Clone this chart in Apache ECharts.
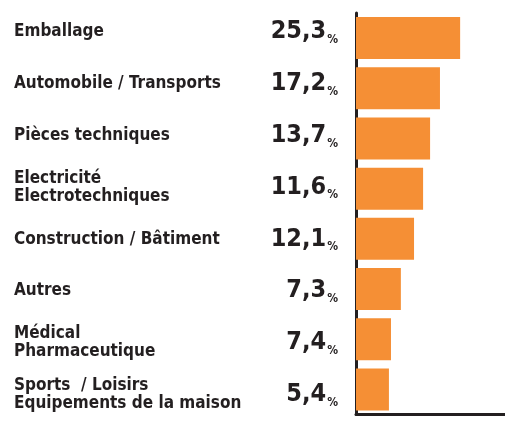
<!DOCTYPE html>
<html>
<head>
<meta charset="utf-8">
<script src="https://cdn.jsdelivr.net/npm/echarts@6/dist/echarts.min.js"></script>
<style>
  html, body { margin: 0; padding: 0; background: #fff; }
  #chart { width: 505px; height: 427px; }
</style>
</head>
<body>
<div id="chart"></div>
<script>
// sectors, top to bottom
const sectors = [
  'Emballage',
  'Automobile / Transports',
  'Pièces techniques',
  'Electricité\nElectrotechniques',
  'Construction / Bâtiment',
  'Autres',
  'Médical\nPharmaceutique',
  'Sports  / Loisirs\nEquipements de la maison'
]
// printed shares (%)
const shares = ['25,3', '17,2', '13,7', '11,6', '12,1', '7,3', '7,4', '5,4']
// bar lengths as drawn in the picture (same unit, first bar = 25.3)
const barLengths = [25.3, 20.4, 18.0, 16.3, 14.1, 10.9, 8.5, 8.0]

const INK = '#231f20'
const ORANGE = '#f58f35'
const FONT = '"DejaVu Sans", sans-serif'
const HEAVY = 'bold condensed'   // goes into the canvas font shorthand

const chart = echarts.init(document.getElementById('chart'), null, { renderer: 'canvas' })

chart.setOption({
  backgroundColor: '#fff',
  animation: false,
  grid: [
    { left: 356, right: 0, top: 13, bottom: 12.5 },   // bars
    { left: 356, right: 0, top: 6, bottom: 6.6 }      // text rows
  ],
  xAxis: [
    {
      gridIndex: 0, type: 'value', min: 0, max: 36.2,
      axisLine: { show: true, onZero: false, lineStyle: { color: INK, width: 3 } },
      axisTick: { show: false }, axisLabel: { show: false }, splitLine: { show: false }
    },
    { gridIndex: 1, type: 'value', min: 0, max: 1, show: false }
  ],
  yAxis: [
    {
      gridIndex: 0, type: 'category', inverse: true, data: sectors,
      axisLine: { show: true, lineStyle: { color: INK, width: 3 } },
      axisTick: { show: false }, axisLabel: { show: false }
    },
    {
      gridIndex: 1, type: 'category', inverse: true, data: sectors, position: 'left',
      axisLine: { show: false }, axisTick: { show: false },
      axisLabel: {
        align: 'left', margin: 342,
        color: INK, fontFamily: FONT, fontWeight: HEAVY, fontSize: 17, lineHeight: 18
      }
    },
    {
      gridIndex: 1, type: 'category', inverse: true, data: shares, position: 'left', offset: 0,
      axisLine: { show: false }, axisTick: { show: false },
      axisLabel: {
        align: 'right', margin: 18,
        formatter: v => '{v|' + v + '}{p|%}',
        rich: {
          v: { color: INK, fontFamily: FONT, fontWeight: HEAVY, fontSize: 25, lineHeight: 28 },
          p: { color: INK, fontFamily: FONT, fontWeight: HEAVY, fontSize: 12, lineHeight: 26,
               verticalAlign: 'bottom', padding: [0, 0, 0, 1] }
        }
      }
    }
  ],
  series: [{
    type: 'bar',
    xAxisIndex: 0, yAxisIndex: 0,
    data: barLengths,
    barWidth: 42,
    itemStyle: { color: ORANGE },
    silent: true
  }]
})
</script>
</body>
</html>
